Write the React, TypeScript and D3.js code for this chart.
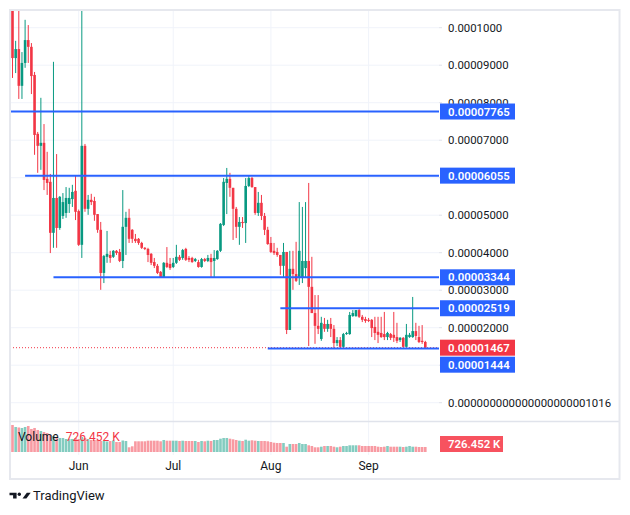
import React from 'react';
import * as d3 from 'd3';

// Daily candles starting at this date; prices in millionths (1e-6)
const START_DATE = '2024-05-11';

const OPEN = [
  104.7, 91.9, 94.3, 84.5, 90.6, 96.7, 94.9, 87.4, 71.7, 68.5,
  69.3, 59.7, 58.9, 45.3, 54.6, 46.6, 49.8, 50.6, 53.0, 54.3,
  56.5, 51.1, 42.1, 68.5, 51.7, 54.1, 53.8, 50.3, 46.1, 34.6,
  38.9, 39.4, 38.9, 40.5, 40.2, 37.8, 46.9, 49.3, 46.1, 43.7,
  43.7, 42.6, 41.3, 41.0, 39.7, 37.5, 36.5, 34.9, 33.5, 37.3,
  37.0, 36.2, 37.3, 38.9, 38.6, 41.0, 38.6, 38.6, 37.8, 37.5,
  36.2, 38.3, 37.8, 38.6, 37.8, 38.3, 40.5, 47.4, 58.6, 59.7,
  57.3, 51.7, 46.9, 48.2, 47.9, 57.8, 59.9, 57.5, 50.6, 53.3,
  49.8, 46.1, 42.6, 40.5, 40.2, 39.4, 36.5, 40.2, 19.4, 35.7,
  34.3, 33.5, 33.5, 35.9, 37.8, 30.9, 23.9, 20.5, 17.0, 21.0,
  19.7, 21.0, 19.7, 15.9, 16.7, 14.9, 18.3, 18.3, 23.1, 23.1,
  24.7, 22.9, 22.3, 22.1, 22.1, 20.2, 18.9, 18.6, 18.3, 17.5,
  18.3, 18.1, 17.5, 16.7, 17.3, 14.9, 17.5, 17.5, 19.1, 17.5,
  16.5, 16.2,
];

const HIGH = [
  105.5, 96.5, 104.7, 93.5, 102.1, 100.7, 95.9, 88.2, 72.2, 81.3,
  74.3, 66.9, 61.0, 90.9, 66.3, 55.1, 55.9, 57.5, 57.3, 58.1,
  60.7, 51.5, 105.5, 69.0, 55.4, 55.7, 54.9, 50.3, 48.2, 39.4,
  45.8, 40.5, 40.7, 40.7, 41.0, 56.7, 50.9, 51.7, 46.3, 45.0,
  43.9, 42.9, 41.5, 41.3, 39.9, 38.6, 37.0, 35.1, 37.5, 41.5,
  38.6, 38.6, 42.1, 39.4, 41.0, 41.3, 39.1, 38.9, 38.6, 38.1,
  38.6, 38.6, 39.4, 39.7, 40.7, 40.7, 47.9, 59.9, 62.6, 61.3,
  57.3, 52.2, 49.5, 49.5, 59.9, 60.5, 60.2, 57.5, 56.2, 55.4,
  50.6, 46.9, 44.2, 42.6, 41.3, 39.4, 42.6, 40.2, 40.5, 40.5,
  42.9, 53.5, 52.2, 53.5, 58.6, 38.9, 28.7, 28.7, 22.9, 22.6,
  22.1, 22.6, 20.7, 17.5, 17.5, 18.6, 18.9, 24.2, 24.7, 24.7,
  25.0, 23.4, 22.9, 22.6, 22.3, 22.9, 22.9, 22.9, 24.2, 18.9,
  18.6, 24.2, 21.3, 17.5, 17.5, 21.0, 18.6, 28.2, 21.3, 20.5,
  20.7, 16.5,
];

const LOW = [
  86.6, 87.9, 81.0, 81.0, 89.3, 90.6, 82.3, 66.1, 61.3, 62.1,
  56.7, 55.4, 39.9, 41.3, 41.3, 46.1, 49.0, 49.3, 50.6, 52.2,
  48.7, 41.8, 38.6, 50.9, 50.1, 52.7, 48.5, 45.3, 30.1, 31.9,
  37.3, 37.3, 38.6, 39.4, 37.5, 35.9, 39.4, 42.6, 42.6, 42.6,
  42.1, 41.0, 40.7, 37.5, 36.7, 35.9, 34.3, 33.3, 33.3, 35.9,
  35.4, 35.9, 37.0, 37.8, 38.1, 37.8, 37.5, 37.3, 37.5, 36.0,
  36.0, 37.5, 37.5, 33.5, 33.5, 38.1, 40.2, 47.1, 50.3, 54.9,
  43.4, 43.9, 42.1, 46.6, 42.6, 57.5, 57.3, 50.1, 49.8, 48.7,
  44.7, 42.1, 39.9, 39.4, 38.9, 34.1, 33.5, 18.3, 19.4, 30.1,
  32.2, 31.4, 31.9, 33.3, 15.1, 23.9, 15.7, 18.3, 16.5, 18.9,
  18.9, 17.5, 14.6, 15.1, 14.6, 14.6, 18.1, 18.1, 22.9, 22.9,
  22.6, 21.5, 21.3, 21.5, 17.5, 16.7, 15.9, 17.3, 16.7, 16.7,
  16.7, 16.2, 15.9, 16.2, 14.9, 14.9, 17.3, 17.3, 16.7, 15.9,
  15.7, 14.6,
];

const CLOSE = [
  91.9, 94.3, 84.5, 90.6, 96.7, 94.9, 87.1, 71.4, 68.5, 69.3,
  59.4, 58.6, 45.3, 54.6, 46.6, 54.9, 53.5, 54.6, 54.6, 56.2,
  50.9, 42.1, 68.5, 51.7, 54.1, 53.5, 50.1, 46.1, 34.6, 39.1,
  39.7, 38.6, 40.5, 39.9, 37.8, 46.9, 49.3, 43.7, 43.7, 43.1,
  42.6, 41.3, 41.0, 39.4, 37.3, 36.5, 34.6, 33.5, 37.3, 36.2,
  35.9, 37.3, 38.9, 38.1, 40.7, 38.1, 38.1, 37.5, 38.3, 36.2,
  38.3, 37.8, 38.6, 37.5, 38.6, 40.5, 47.7, 58.9, 59.7, 57.3,
  51.7, 46.9, 48.2, 47.9, 57.8, 59.9, 57.5, 50.6, 53.3, 49.8,
  46.1, 42.3, 40.2, 39.9, 39.4, 36.5, 40.2, 19.4, 35.7, 34.3,
  32.5, 40.5, 37.8, 37.8, 30.9, 23.9, 20.5, 19.7, 21.3, 19.7,
  21.0, 19.7, 15.9, 16.7, 14.9, 18.3, 18.6, 23.4, 23.9, 24.7,
  22.9, 22.1, 21.8, 21.8, 19.9, 18.6, 18.1, 17.5, 17.5, 18.6,
  17.3, 17.3, 16.5, 17.3, 14.9, 18.1, 18.1, 19.1, 17.8, 16.2,
  16.2, 14.67,
];

// Volume in thousands
const VOLUME_K = [
  3923, 3632, 3560, 3487, 3632, 3778, 3342, 3487, 3196, 3051,
  2906, 2761, 2470, 2325, 2179, 2034, 2034, 1889, 1889, 1889,
  2034, 1889, 2179, 2034, 1889, 1743, 1743, 1743, 1598, 1598,
  1526, 1598, 1671, 1453, 1453, 1671, 1598, 683, 828, 1555,
  1555, 1555, 1555, 1642, 1642, 1642, 1642, 1555, 1743, 1642,
  1642, 1642, 1642, 1598, 1642, 1598, 1598, 1598, 1598, 1453,
  1598, 1555, 1642, 1598, 1743, 1743, 1932, 2034, 2034, 1932,
  1845, 1743, 1642, 1598, 1787, 1642, 1700, 1642, 1598, 1598,
  1598, 1555, 1453, 1351, 1308, 1308, 1308, 770, 1162, 1162,
  1162, 1308, 1162, 1162, 973, 872, 683, 683, 770, 872,
  872, 872, 770, 683, 770, 872, 872, 973, 973, 973,
  973, 872, 872, 872, 872, 872, 770, 726, 770, 872,
  770, 770, 770, 770, 726, 770, 872, 770, 770, 726,
  726, 726.452,
];

const PRICE_TICKS = [0, 10, 20, 30, 40, 50, 60, 70, 80, 90, 100];
const PRICE_TICK_LABELS = [
  '0.000000000000000000001016', '0.00001000', '0.00002000', '0.00003000', '0.00004000',
  '0.00005000', '0.00006000', '0.00007000', '0.00008000', '0.00009000', '0.0001000',
];

const LEVELS = [77.65, 60.55, 33.44, 25.19, 14.44];
const LEVEL_LABELS = ['0.00007765', '0.00006055', '0.00003344', '0.00002519', '0.00001444'];
const LEVEL_STARTS = ['2024-05-01', '2024-05-15', '2024-05-24', '2024-08-04', '2024-07-31'];

const LAST_PRICE_LABEL = '0.00001467';
const VOLUME_LABEL = '726.452 K';

const UP = '#089981';
const DOWN = '#f23645';
const BLUE = '#2962ff';
const TEXT = '#131722';
const FONT = "Roboto, 'Liberation Sans', Arial, sans-serif";

export default function App() {
  const parse = d3.timeParse('%Y-%m-%d');
  const start = parse(START_DATE) as Date;
  const data = OPEN.map((o, i) => ({
    date: d3.timeDay.offset(start, i),
    o, h: HIGH[i], l: LOW[i], c: CLOSE[i], v: VOLUME_K[i],
  }));
  const first = data[0].date;
  const last = data[data.length - 1].date;

  const left = 10, right = 439, top = 11, paneBottom = 421;
  const x = d3.scaleTime().domain([first, last]).range([12.5, 425.3]);
  const y = d3.scaleLinear().domain([0, 100]).range([402.7, 27.7]);
  const yv = d3.scaleLinear().domain([0, 4400]).range([452, 421.7]);
  const bw = 2.6;

  const months = d3.timeMonth.range(d3.timeMonth.ceil(first), last);
  const fmtMonth = d3.timeFormat('%b');

  const lastClose = CLOSE[CLOSE.length - 1];
  const lastY = y(lastClose);

  // right-axis label boxes with simple collision avoidance
  const boxH = 16;
  const priceBoxY = lastY;
  const levelBoxes = LEVELS.map((lv, i) => {
    let cy = y(lv);
    if (Math.abs(cy - priceBoxY) < boxH) {
      cy = lv < lastClose ? priceBoxY + boxH + 1 : priceBoxY - boxH - 1;
    }
    return { cy, label: LEVEL_LABELS[i], lineY: y(lv), startX: Math.max(left, x(parse(LEVEL_STARTS[i]) as Date)) };
  });
  const boxCenters = [priceBoxY, ...levelBoxes.map((b) => b.cy)];
  // axis labels fully covered by a box are hidden (as the price scale does)
  const visibleTick = (t: number) => boxCenters.every((c) => Math.abs(c - y(t)) > 5);

  return (
    <svg width={630} height={515} style={{ position: 'absolute', left: 0, top: 0, background: '#fff' }}
      fontFamily={FONT}>
      <defs>
        <clipPath id="pane">
          <rect x={left} y={top} width={right - left} height={paneBottom - top} />
        </clipPath>
        <clipPath id="vpane">
          <rect x={left} y={422} width={right - left} height={32} />
        </clipPath>
      </defs>

      {/* grid */}
      {PRICE_TICKS.map((t) => (
        <line key={'g' + t} x1={left} x2={right} y1={y(t)} y2={y(t)} stroke="#f0f3fa" strokeWidth={1} />
      ))}
      {months.map((m) => (
        <line key={'m' + m.getTime()} x1={x(m)} x2={x(m)} y1={top} y2={455} stroke="#f0f3fa" strokeWidth={1} />
      ))}

      {/* candles */}
      <g clipPath="url(#pane)">
        {data.map((d, i) => {
          const col = d.c >= d.o ? UP : DOWN;
          const cx = x(d.date);
          const y1 = y(Math.max(d.o, d.c));
          const y2 = y(Math.min(d.o, d.c));
          return (
            <g key={i}>
              <line x1={cx} x2={cx} y1={y(d.h)} y2={y(d.l)} stroke={col} strokeWidth={1} />
              <rect x={cx - bw / 2} y={y1} width={bw} height={Math.max(1, y2 - y1)} fill={col} />
            </g>
          );
        })}
        {/* last price dotted line */}
        <line x1={left} x2={right} y1={lastY} y2={lastY} stroke={DOWN} strokeWidth={1} strokeDasharray="1 2" />
        {/* horizontal levels */}
        {levelBoxes.map((b, i) => (
          <line key={'l' + i} x1={b.startX} x2={right + 1} y1={b.lineY} y2={b.lineY} stroke={BLUE} strokeWidth={2} />
        ))}
      </g>

      {/* volume */}
      <g clipPath="url(#vpane)">
        {data.map((d, i) => (
          <rect key={'v' + i} x={x(d.date) - bw / 2} y={yv(d.v)} width={bw} height={yv(0) - yv(d.v)}
            fill={d.c >= d.o ? 'rgba(8,153,129,0.5)' : 'rgba(242,54,69,0.5)'} />
        ))}
      </g>
      <text x={18} y={437} dominantBaseline="central" fontSize={12} fill={TEXT}>
        Volume
        <tspan dx={7} fill={DOWN}>{VOLUME_LABEL}</tspan>
      </text>

      {/* price axis labels */}
      {PRICE_TICKS.map((t, i) => (
        <g key={'t' + t}>
          <line x1={right} x2={442} y1={y(t)} y2={y(t)} stroke="#e0e3eb" strokeWidth={1} />
          {visibleTick(t) && (
            <text x={448} y={y(t)} dominantBaseline="central" fontSize={11.4} fill={TEXT}>{PRICE_TICK_LABELS[i]}</text>
          )}
        </g>
      ))}

      {/* level boxes */}
      {levelBoxes.map((b, i) => (
        <g key={'b' + i}>
          <rect x={440} y={b.cy - boxH / 2} width={75} height={boxH} fill={BLUE} />
          <text x={448} y={b.cy} dominantBaseline="central" fontSize={11.4} fontWeight={600} fill="#fff">{b.label}</text>
        </g>
      ))}
      <rect x={440} y={priceBoxY - boxH / 2} width={75} height={boxH} fill={DOWN} />
      <text x={448} y={priceBoxY} dominantBaseline="central" fontSize={11.4} fontWeight={600} fill="#fff">{LAST_PRICE_LABEL}</text>

      {/* volume box */}
      <rect x={440} y={436} width={63} height={16} fill="#f7525f" />
      <text x={448} y={444} dominantBaseline="central" fontSize={11.4} fontWeight={600} fill="#fff">{VOLUME_LABEL}</text>

      {/* time axis */}
      {months.map((m) => (
        <text key={'tl' + m.getTime()} x={x(m)} y={466} textAnchor="middle" dominantBaseline="central" fontSize={12} fill={TEXT}>
          {fmtMonth(m)}
        </text>
      ))}

      {/* frame and pane separator */}
      <line x1={left} x2={619.5} y1={421.5} y2={421.5} stroke="#e0e3eb" strokeWidth={1.5} />
      <rect x={10} y={10} width={609.5} height={469} fill="none" stroke="#e6e8ee" strokeWidth={2} />

      {/* TradingView logo */}
      <g fill={TEXT}>
        <path d="M9.5,492.7 H16.6 V498.4 H13.1 V495.3 H9.5 Z" />
        <circle cx={19.3} cy={494.3} r={1.7} />
        <path d="M26.8,492.7 H30.7 L26.4,498.4 H22.5 Z" />
      </g>
      <text x={33} y={499.5} fontSize={13} fill={TEXT}>TradingView</text>
    </svg>
  );
}
